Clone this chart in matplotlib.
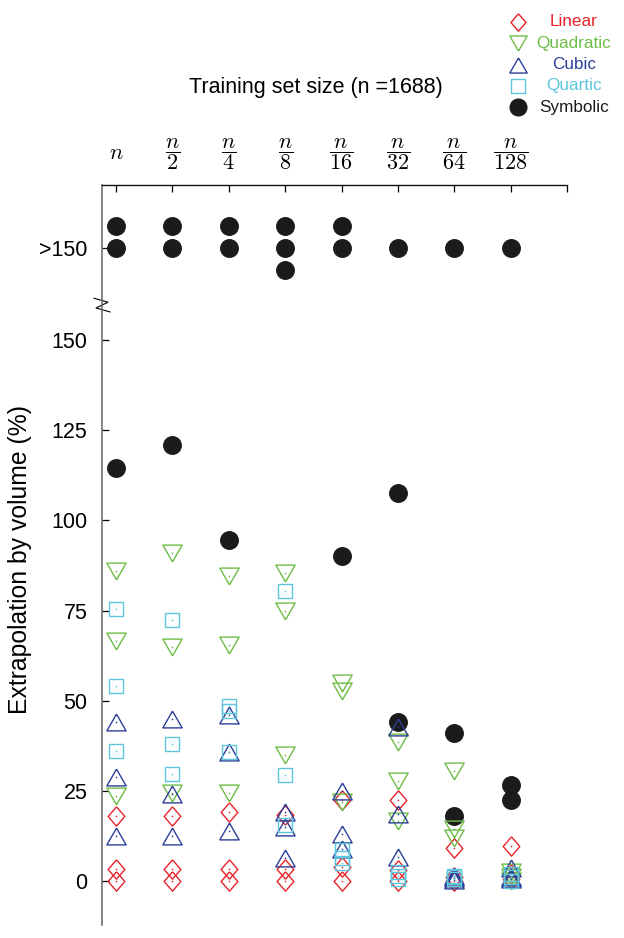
import matplotlib
matplotlib.use('Agg')
import matplotlib.pyplot as plt
from matplotlib.lines import Line2D
import numpy as np

plt.rcParams['font.family'] = ['Liberation Sans', 'DejaVu Sans']
plt.rcParams['mathtext.fontset'] = 'cm'

# training set sizes (top axis)
sizes = ['$n$', r'$\dfrac{n}{2}$', r'$\dfrac{n}{4}$', r'$\dfrac{n}{8}$',
         r'$\dfrac{n}{16}$', r'$\dfrac{n}{32}$', r'$\dfrac{n}{64}$', r'$\dfrac{n}{128}$']

# extrapolation by volume (%), three runs per size
linear = [[18, 3.2, 0], [18, 3.2, 0], [19, 3.2, 0], [18.3, 3.3, 0],
          [22.5, 4, 0], [22.5, 3, 0], [9.2, 1, 0], [9.7, 2, 0.5]]
quadratic = [[86, 66.5, 23.5], [91, 65, 24.3], [84.5, 65.5, 24.3], [85.3, 75, 35],
             [55, 52.6, 22], [38.6, 27.7, 16.6], [30.6, 14.3, 12], [2.5, 1, 0]]
cubic = [[44, 28.8, 12.5], [45, 24, 12.5], [46, 35.7, 14], [19.2, 15, 6.4],
         [25, 13, 9], [42.7, 18.5, 6.7], [1.5, 0.8, 0.2], [3.5, 1, 0.5]]
quartic = [[75.3, 54, 36], [72.5, 38.1, 29.6], [48.6, 47.2, 35.8], [80.3, 29.4, 15.5],
           [8.5, 6.5, 5], [2.5, 1.5, 0.5], [1.5, 1, 0.5], [2, 1, 0]]
symbolic = [[114.5], [121], [94.5], [], [90], [107.5, 44], [41, 18], [26.5, 22.5]]
symbolic_over = [2, 2, 2, 3, 2, 1, 1, 1]   # runs with > 150 %

OVER = 175.5   # axis position of the ">150" row
STEP = 6

c_lin = '#e8222b'
c_quad = '#6cbd45'
c_cub = '#2c3e98'
c_quar = '#5cc6dc'
c_sym = '#1b1b1b'

diamond = [(0, 1), (0.865, 0), (0, -1), (-0.865, 0), (0, 1)]
tri_down = [(0, -1), (-1.15, 1), (1.15, 1), (0, -1)]
tri_up = [(0, 1), (-1.15, -1), (1.15, -1), (0, 1)]


def flat(groups):
    xs, ys = [], []
    for i, g in enumerate(groups):
        for v in g:
            xs.append(i)
            ys.append(v)
    return np.array(xs), np.array(ys)


fig = plt.figure(figsize=(6.24, 9.38), dpi=100)
ax = fig.add_axes([102 / 624, 1 - 925 / 938, 465 / 624, 740 / 938])

# symbolic first so the hollow markers sit on top
sx, sy = flat(symbolic)
ox, oy = [], []
for i, c in enumerate(symbolic_over):
    for k in range(c):
        ox.append(i)
        oy.append(OVER + [0, 1, -1][k] * STEP)
ax.plot(np.concatenate([sx, ox]), np.concatenate([sy, oy]), 'o', ms=12.6,
        color=c_sym, mec=c_sym, ls='none')

for data, col, mk, ms in [(linear, c_lin, diamond, 13.9),
                          (quadratic, c_quad, tri_down, 13.9),
                          (cubic, c_cub, tri_up, 13.9),
                          (quartic, c_quar, 's', 10.3)]:
    x, y = flat(data)
    ax.plot(x, y, ls='none', marker=mk, ms=ms, mfc='none', mec=col, mew=1.0)
    ax.plot(x, y, ls='none', marker='o', ms=1.2, mfc=col, mec='none')

ax.set_xlim(-0.25, 8.0)
ax.set_ylim(-12.2, 193)

ax.xaxis.tick_top()
ax.set_xticks(list(range(8)) + [8.0])
ax.set_xticklabels(sizes + [''], fontsize=16)
for lab in ax.get_xticklabels():
    lab.set_va('center')
ax.tick_params(axis='x', direction='in', length=5, width=0.9, pad=22.5, colors='k')

ax.set_yticks([0, 25, 50, 75, 100, 125, 150, OVER])
ax.set_yticklabels(['0', '25', '50', '75', '100', '125', '150', '>150'], fontsize=15.5)
ax.tick_params(axis='y', direction='in', length=5, width=0.9, pad=10.5)

for s in ['right', 'bottom']:
    ax.spines[s].set_visible(False)
ax.spines['left'].set_color('#6e6e6e')
ax.spines['left'].set_linewidth(1.2)
ax.spines['top'].set_color('#111111')
ax.spines['top'].set_linewidth(1.0)

# axis break mark between 150 and >150
ax.plot([-0.0172, 0.0129, -0.0129, 0.0172], [161.6, 160.5, 158.9, 157.8],
        transform=ax.get_yaxis_transform(), clip_on=False, color='k', lw=0.8)

fig.text(315.5 / 624, 1 - 88 / 938, 'Training set size (n =1688)', fontsize=15.5,
         ha='center', va='center')
fig.text(20 / 624, 1 - 560 / 938, 'Extrapolation by volume (%)', fontsize=17.8,
         rotation=90, ha='center', va='center')

# legend drawn by hand, text centred like the original
leg = [('Linear', c_lin, diamond, 12.5, 'none'),
       ('Quadratic', c_quad, tri_down, 12.5, 'none'),
       ('Cubic', c_cub, tri_up, 12.5, 'none'),
       ('Quartic', c_quar, 's', 9.5, 'none'),
       ('Symbolic', c_sym, 'o', 12, c_sym)]
for k, (name, col, mk, ms, fc) in enumerate(leg):
    yy = 1 - (22 + k * 21.3) / 938
    fig.add_artist(Line2D([518 / 624], [yy], transform=fig.transFigure, ls='none',
                          marker=mk, ms=ms, mfc=fc, mec=col, mew=1.0))
    fig.text(574 / 624, yy, name, color=col, fontsize=12.3, ha='center', va='center')

fig.savefig('out.png', dpi=100)
